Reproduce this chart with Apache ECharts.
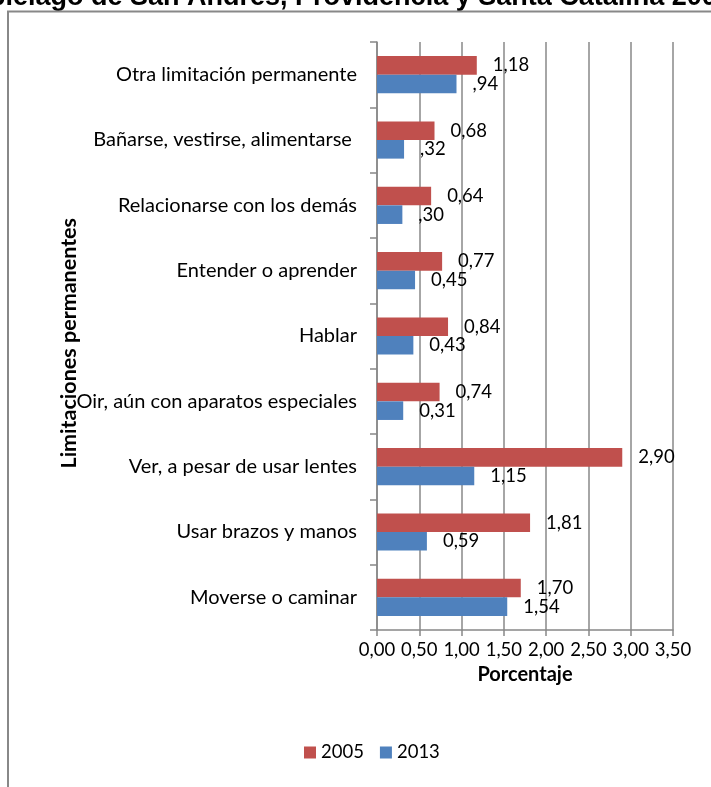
<!DOCTYPE html>
<html>
<head>
<meta charset="utf-8">
<script src="https://cdn.jsdelivr.net/npm/echarts@6/dist/echarts.min.js"></script>
<style>
  html, body { margin: 0; padding: 0; background: #fff; }
  #chart { width: 711px; height: 787px; }
</style>
</head>
<body>
<div id="chart"></div>
<script>
const categories = [
  "Otra limitación permanente",
  "Bañarse, vestirse, alimentarse ",
  "Relacionarse con los demás",
  "Entender o aprender",
  "Hablar",
  "Oir, aún con aparatos especiales",
  "Ver, a pesar de usar lentes",
  "Usar brazos y manos",
  "Moverse o caminar"
];
const values2005 = [1.18, 0.68, 0.64, 0.77, 0.84, 0.74, 2.90, 1.81, 1.70];
const values2013 = [0.94, 0.32, 0.30, 0.45, 0.43, 0.31, 1.15, 0.59, 1.54];
const labels2013 = [",94", ",32", ",30", "0,45", "0,43", "0,31", "1,15", "0,59", "1,54"];

const font = "Lato";
const gray = "#888888";
const fmt = v => v.toFixed(2).replace(".", ",");

const chart = echarts.init(document.getElementById("chart"));

chart.setOption({
  animation: false,
  textStyle: { fontFamily: font },
  graphic: [
    {
      type: "text",
      left: -80, top: -16,
      style: {
        text: "Archipiélago de San Andrés, Providencia y Santa Catalina 2005",
        font: "bold 27px 'Liberation Sans'",
        fill: "#000"
      }
    },
    {
      // y axis title, drawn by hand so it can sit where the original does
      type: "text",
      left: 58, top: 218,
      rotation: Math.PI / 2,
      style: {
        text: "Limitaciones permanentes",
        font: "bold 21.5px Lato",
        fill: "#000"
      }
    },
    {
      type: "polyline",
      shape: { points: [[8, 800], [8, 11.5], [720, 11.5]] },
      style: { stroke: gray, lineWidth: 2, fill: null }
    }
  ],
  legend: {
    left: 299,
    top: 738,
    itemWidth: 12, itemHeight: 12, itemGap: 16,
    icon: "rect",
    textStyle: { fontFamily: font, fontSize: 18.5, color: "#000" },
    data: ["2005", "2013"]
  },
  grid: { left: 377, right: 38, top: 42, bottom: 157 },
  xAxis: {
    type: "value",
    min: 0, max: 3.5, interval: 0.5,
    name: "Porcentaje",
    nameLocation: "middle",
    nameGap: 29,
    nameTextStyle: { fontFamily: font, fontWeight: "bold", fontSize: 20, color: "#000" },
    axisLine: { show: true, lineStyle: { color: gray, width: 1.5 } },
    axisTick: { show: true, length: 6, lineStyle: { color: gray, width: 1.5 } },
    axisLabel: { formatter: fmt, fontFamily: font, fontSize: 18.5, color: "#000", margin: 11 },
    splitLine: { show: true, lineStyle: { color: gray, width: 1.5 } }
  },
  yAxis: {
    type: "category",
    inverse: true,
    data: categories,
    axisLine: { show: true, lineStyle: { color: gray, width: 1.5 } },
    axisTick: { show: true, length: 7, lineStyle: { color: gray, width: 1.5 } },
    axisLabel: { fontFamily: font, fontSize: 20, color: "#000", margin: 20 }
  },
  series: [
    {
      name: "2005",
      type: "bar",
      data: values2005,
      itemStyle: { color: "#C0504D" },
      barGap: "0%",
      barCategoryGap: "43%",
      label: {
        show: true, position: "right", distance: 16,
        formatter: p => fmt(p.value),
        fontFamily: font, fontSize: 18.5, color: "#000"
      }
    },
    {
      name: "2013",
      type: "bar",
      data: values2013,
      itemStyle: { color: "#4F81BD" },
      label: {
        show: true, position: "right", distance: 16,
        formatter: p => labels2013[p.dataIndex],
        fontFamily: font, fontSize: 18.5, color: "#000"
      }
    }
  ]
});
</script>
</body>
</html>
